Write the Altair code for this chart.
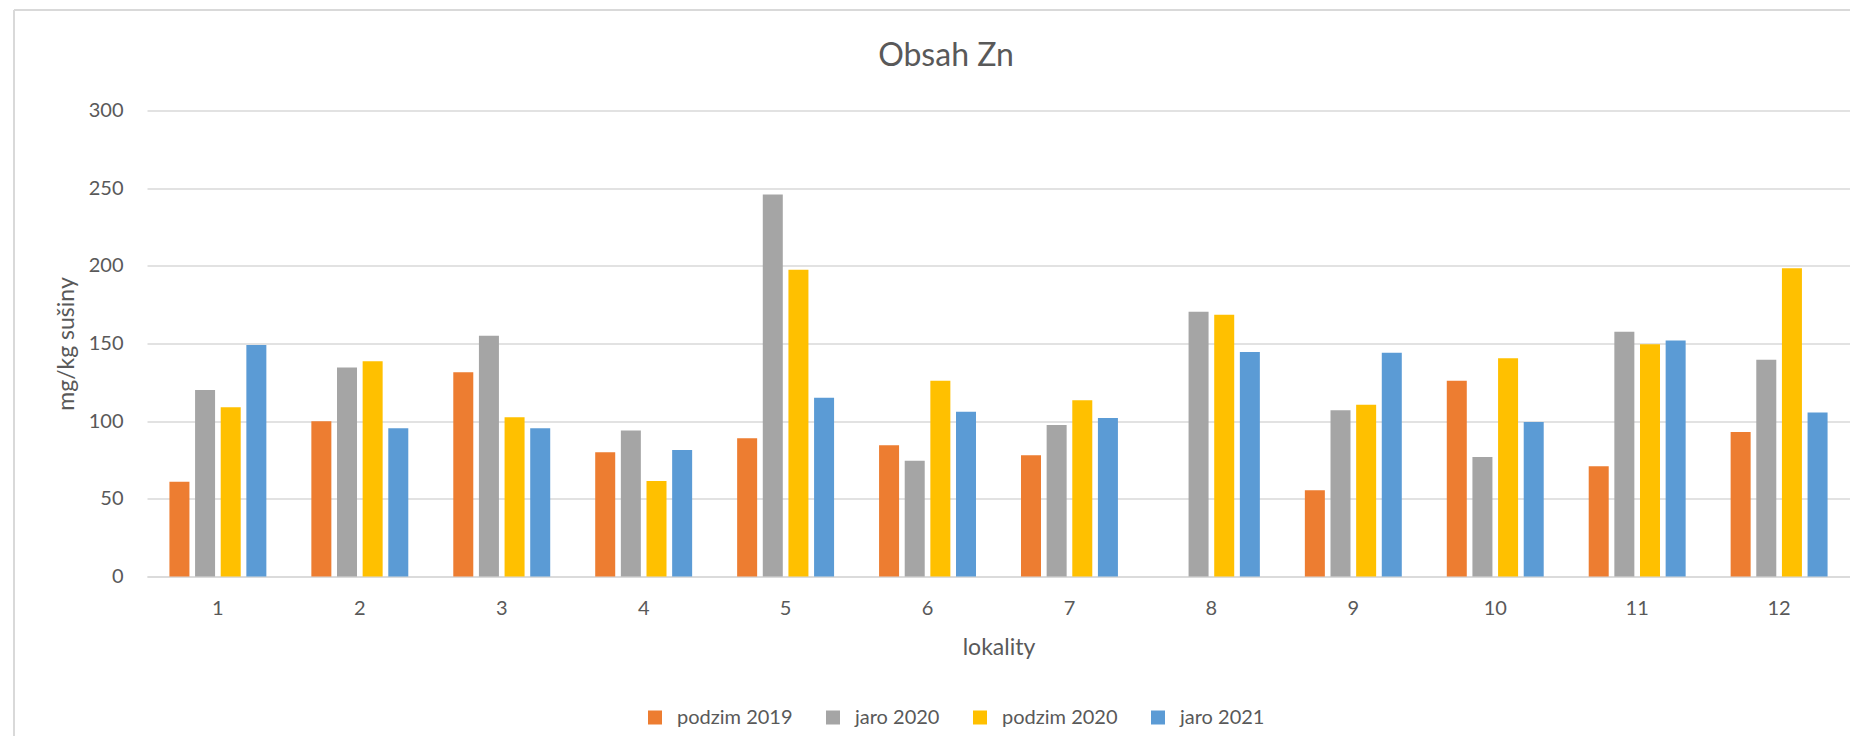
import altair as alt
import pandas as pd

lokality = [str(i) for i in range(1, 13)]
series = ["podzim 2019", "jaro 2020", "podzim 2020", "jaro 2021"]
podzim_2019 = [61, 100, 131.5, 80, 89, 84.5, 78, None, 55.5, 126, 71, 93]
jaro_2020 = [120, 134.5, 155, 94, 246, 74.5, 97.5, 170.5, 107, 77, 157.5, 139.5]
podzim_2020 = [109, 138.5, 102.5, 61.5, 197.5, 126, 113.5, 168.5, 110.5, 140.5, 149.5, 198.5]
jaro_2021 = [149, 95.5, 95.5, 81.5, 115, 106, 102, 144.5, 144, 99.5, 152, 105.5]
colors = ["#ED7D31", "#A5A5A5", "#FFC000", "#5B9BD5"]
y_ticks = [0, 50, 100, 150, 200, 250, 300]

rows = []
for name, vals in zip(series, [podzim_2019, jaro_2020, podzim_2020, jaro_2021]):
    for lok, v in zip(lokality, vals):
        rows.append({"lokalita": lok, "série": name, "hodnota": v})
df = pd.DataFrame(rows)

FONT = "Lato"
TXT = "#595959"
GRID = "#d9d9d9"
W, H = 1703, 466

bars = alt.Chart(df).mark_bar().encode(
    x=alt.X(
        "lokalita:N",
        sort=lokality,
        scale=alt.Scale(paddingInner=0.317, paddingOuter=0.158),
        axis=alt.Axis(
            labelAngle=0, ticks=False, domain=True, domainColor=GRID, domainWidth=1.5,
            labelPadding=22, labelFontSize=20, labelFont=FONT, labelColor=TXT,
            title="lokality", titleFontSize=23, titleFont=FONT, titleColor=TXT,
            titleFontWeight="normal", titleX=W / 2, titleY=77.5,
            titleBaseline="alphabetic", titleAlign="center",
        ),
    ),
    xOffset=alt.XOffset("série:N", sort=series,
                        scale=alt.Scale(paddingInner=0.22, paddingOuter=0)),
    y=alt.Y(
        "hodnota:Q",
        scale=alt.Scale(domain=[0, 300], nice=False),
        axis=alt.Axis(
            values=y_ticks, grid=True, gridColor=GRID, gridWidth=1.5,
            domain=False, ticks=False, labelPadding=24,
            labelFontSize=20, labelFont=FONT, labelColor=TXT,
            title="mg/kg sušiny", titleFontSize=23, titleFont=FONT, titleColor=TXT,
            titleFontWeight="normal", titleAngle=270, titleX=-74, titleY=H / 2,
            titleBaseline="alphabetic", titleAlign="center",
        ),
    ),
    color=alt.Color(
        "série:N", sort=series,
        scale=alt.Scale(domain=series, range=colors),
        legend=alt.Legend(
            title=None, orient="none", direction="horizontal",
            legendX=498, legendY=597,
            symbolType="square", symbolSize=196, symbolStrokeWidth=0,
            labelFontSize=20, labelFont=FONT, labelColor=TXT,
            columnPadding=30, labelOffset=12,
        ),
    ),
)

frame_left = alt.Chart(df).mark_rule(color=GRID, strokeWidth=2).encode(
    x=alt.value(-133), y=alt.value(-100.5), y2=alt.value(640)
)
frame_top = alt.Chart(df).mark_rule(color=GRID, strokeWidth=2).encode(
    x=alt.value(-133), x2=alt.value(1712), y=alt.value(-100.5)
)

chart = alt.layer(frame_left, frame_top, bars).properties(
    width=W,
    height=H,
    title=alt.TitleParams(
        "Obsah Zn", fontSize=32, font=FONT, fontWeight="normal", color=TXT,
        anchor="middle", dx=-52.5, dy=64, offset=0,
    ),
    autosize=alt.AutoSizeParams(type="none"),
    padding={"left": 139, "top": 102.5, "right": 0, "bottom": 159},
).configure_view(stroke=None)

chart.save("out.html", embed_options={"renderer": "svg", "actions": False})
